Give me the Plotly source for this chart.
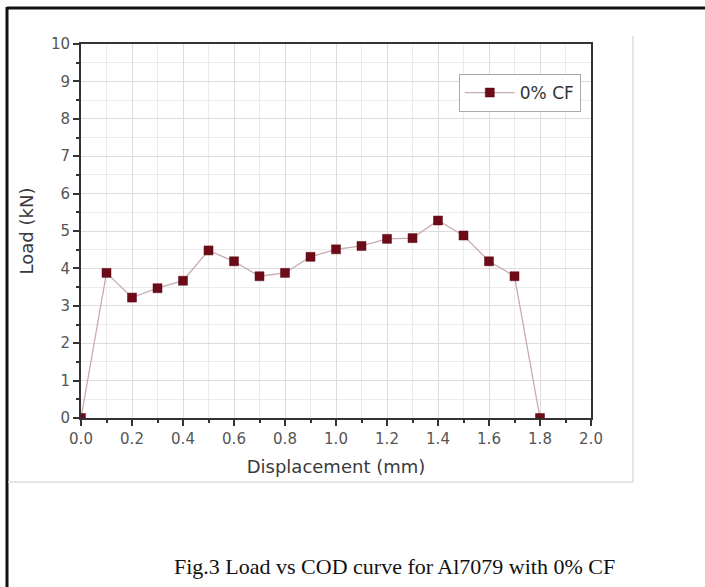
import plotly.graph_objects as go

displacement = [0.0, 0.1, 0.2, 0.3, 0.4, 0.5, 0.6, 0.7, 0.8, 0.9,
                1.0, 1.1, 1.2, 1.3, 1.4, 1.5, 1.6, 1.7, 1.8]
load = [0.0, 3.88, 3.22, 3.47, 3.67, 4.48, 4.19, 3.79, 3.88, 4.31,
        4.51, 4.60, 4.79, 4.81, 5.28, 4.88, 4.19, 3.79, 0.0]
series_name = "0% CF"
caption = "Fig.3 Load vs COD curve for Al7079 with 0% CF"

W, H = 705, 587
L, R, T, B = 81, 591, 44, 418  # plot area in pixels


def px(x):
    return (x - L) / (R - L)


def py(y):
    return (B - y) / (B - T)


fig = go.Figure()
fig.add_trace(go.Scatter(
    x=displacement, y=load, mode="lines+markers", name=series_name,
    line=dict(color="#c9aab0", width=1.3),
    marker=dict(symbol="square", size=9, color="#6e0b18",
                line=dict(color="#5a0812", width=0.5)),
))

SANS = "DejaVu Sans, Verdana, sans-serif"
axis_font = dict(family=SANS, size=15, color="#555555")
title_font = dict(family=SANS, size=18, color="#3a3a3a")

fig.update_xaxes(
    range=[0, 2.0], dtick=0.2, tick0=0, tickformat=".1f",
    showline=True, linewidth=2, linecolor="#333333", mirror=True,
    ticks="outside", ticklen=6, tickwidth=2, tickcolor="#333333",
    showgrid=True, gridcolor="#dcdcdc", gridwidth=1,
    minor=dict(dtick=0.1, ticks="outside", ticklen=3, tickwidth=2,
               tickcolor="#333333", showgrid=True, gridcolor="#ebebeb", gridwidth=1),
    zeroline=False, tickfont=axis_font,
    title=dict(text="Displacement (mm)", font=title_font, standoff=13),
)
fig.update_yaxes(
    range=[0, 10], dtick=1, tick0=0,
    showline=True, linewidth=2, linecolor="#333333", mirror=True,
    ticks="outside", ticklen=6, tickwidth=2, tickcolor="#333333",
    showgrid=True, gridcolor="#dcdcdc", gridwidth=1,
    minor=dict(dtick=0.5, ticks="outside", ticklen=3, tickwidth=2,
               tickcolor="#333333", showgrid=True, gridcolor="#ebebeb", gridwidth=1),
    zeroline=False, tickfont=axis_font,
    title=dict(text="Load (kN)", font=title_font, standoff=13),
)

shapes = [
    # outer black frame
    dict(type="line", xref="paper", yref="paper", x0=px(7), x1=px(706), y0=py(8), y1=py(8),
         line=dict(color="#111111", width=3)),
    dict(type="line", xref="paper", yref="paper", x0=px(7), x1=px(7), y0=py(7), y1=py(590),
         line=dict(color="#111111", width=3)),
    # light grey image frame
    dict(type="line", xref="paper", yref="paper", x0=px(633), x1=px(633), y0=py(36), y1=py(482),
         line=dict(color="#dddddd", width=1.5)),
    dict(type="line", xref="paper", yref="paper", x0=px(8), x1=px(633), y0=py(482), y1=py(482),
         line=dict(color="#dddddd", width=1.5)),
]

fig.update_layout(
    width=W, height=H, autosize=False,
    margin=dict(l=L, r=W - R, t=T, b=H - B, pad=0),
    paper_bgcolor="white", plot_bgcolor="white",
    showlegend=True,
    legend=dict(x=0.98, y=py(74), xanchor="right", yanchor="top",
                bordercolor="#aaaaaa", borderwidth=1, bgcolor="white",
                itemwidth=50,
                font=dict(family=SANS, size=17, color="#333333")),
    shapes=shapes,
    annotations=[dict(text=caption, xref="paper", yref="paper",
                      x=px(394), y=py(566), xanchor="center", yanchor="middle",
                      showarrow=False,
                      font=dict(family="Palatino Linotype, Book Antiqua, Liberation Serif, DejaVu Serif, serif",
                                size=22, color="#111111"))],
)

fig.write_html("out.html")
